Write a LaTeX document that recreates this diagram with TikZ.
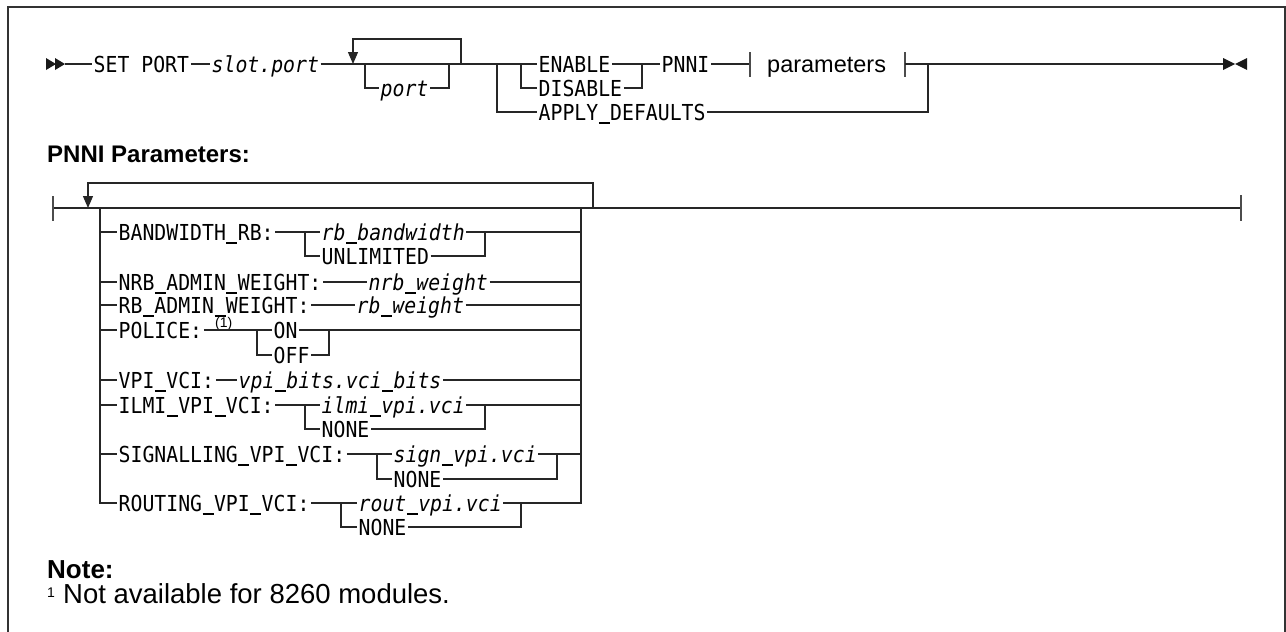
\documentclass[tikz,border=0pt]{standalone}
\usepackage{fontspec}
\setmainfont{Liberation Sans}
\newfontfamily\dmono[FakeStretch=0.9, ItalicFont={DejaVu Sans Mono Oblique}]{DejaVu Sans Mono}
\newsavebox\uscbox
\newcommand\usc{\sbox\uscbox{x}\makebox[\wd\uscbox][c]{\rule[-3.5pt]{0.92\wd\uscbox}{1.4pt}}}
\usetikzlibrary{arrows.meta}
\begin{document}
\begin{tikzpicture}[x=1pt,y=-1pt,
  ln/.style={line width=1.3pt, draw=black!85},
  mtxt/.style={font=\fontsize{22}{22}\dmono\selectfont, inner xsep=1.5pt, inner ysep=0pt, text height=16pt, text depth=0pt, anchor=west},
  itxt/.style={mtxt, font=\fontsize{22}{22}\dmono\itshape\selectfont},
  barln/.style={line width=2.4pt, draw=black!70},
  tip/.style={fill=black!90},
  frame/.style={line width=2pt, draw=black!80},
  hd/.style={font=\fontsize{24}{24}\selectfont\bfseries, anchor=base west, inner sep=0pt},
  note/.style={font=\fontsize{26}{26}\selectfont\bfseries, anchor=base west, inner sep=0pt},
  foot/.style={font=\fontsize{27.5}{27.5}\selectfont, anchor=base west, inner sep=0pt},
  sanst/.style={font=\fontsize{23.5}{23.5}\selectfont, anchor=base west, inner sep=0pt},
  supt/.style={font=\fontsize{14}{14}\selectfont, inner sep=0pt},
  looptip/.style={-{Triangle[length=12pt,width=10pt]}}
]
\useasboundingbox (0,0) rectangle (1286,632);
\draw[frame] (8,645) -- (8,7) -- (1285,7) -- (1285,645);

% ---------------- row 1
\fill[tip] (46,58) -- (56,64) -- (46,70) -- cycle;
\fill[tip] (55,58) -- (65,64) -- (55,70) -- cycle;
\coordinate (s0) at (65,64);
\node[mtxt] (set) at (92,64) {SET PORT};
\node[itxt] (slot) at (210,64) {slot.port};
\coordinate (ll) at (353,64);
\coordinate (lr) at (461,64);
\coordinate (pl) at (365,64);
\coordinate (pr) at (449,64);
\node[itxt] (port) at (379,88) {port};
\coordinate (c1) at (497,64);
\coordinate (e1) at (521,64);
\coordinate (e2) at (642,64);
\node[mtxt] (enable) at (537,64) {ENABLE};
\node[mtxt] (disable) at (537,88) {DISABLE};
\node[mtxt] (pnni) at (660,64) {PNNI};
\coordinate (b1) at (750,64);
\node[sanst] (parm) at (767,72) {parameters};
\coordinate (b2) at (905,64);
\coordinate (c2) at (928,64);
\coordinate (eend) at (1223,64);
\fill[tip] (1223,58) -- (1235,64) -- (1223,70) -- cycle;
\fill[tip] (1247,58) -- (1235,64) -- (1247,70) -- cycle;
\node[mtxt] (apply) at (537,112) {APPLY\usc DEFAULTS};

\draw[ln] (s0) -- (set.west);
\draw[ln] (set.east) -- (slot.west);
\draw[ln] (slot.east) -- (enable.west);
\draw[ln,looptip] (lr) -- ++(0,-25) -| (ll);
\draw[ln] (pl) |- (port.west);
\draw[ln] (port.east) -| (pr);
\draw[ln] (e1) |- (disable.west);
\draw[ln] (disable.east) -| (e2);
\draw[ln] (enable.east) -- (pnni.west);
\draw[ln] (pnni.east) -- (b1);
\draw[barln] ([yshift=12pt]b1) -- ([yshift=-13pt]b1);
\draw[barln] ([yshift=12pt]b2) -- ([yshift=-13pt]b2);
\draw[ln] (b2) -- (eend);
\draw[ln] (c1) |- (apply.west);
\draw[ln] (apply.east) -| (c2);

% ---------------- PNNI parameters
\node[hd] (pph) at (47,162) {PNNI Parameters:};
\coordinate (m0) at (53,208);
\coordinate (m1) at (1241,208);
\draw[ln] (m0) -- (m1);
\draw[barln] ([yshift=12pt]m0) -- ([yshift=-13pt]m0);
\draw[barln] ([yshift=13pt]m1) -- ([yshift=-13pt]m1);
\coordinate (al) at (88,208);
\coordinate (ar) at (593,208);
\draw[ln,looptip] (ar) -- ++(0,-25) -| (al);
\coordinate (L) at (100,208);
\coordinate (R) at (581,208);

% row: bandwidth
\node[mtxt] (bw) at (117,232) {BANDWIDTH\usc RB:};
\node[itxt] (rbb) at (320,232) {rb\usc bandwidth};
\node[mtxt] (unl) at (320,256) {UNLIMITED};
\coordinate (bwl) at (305,232);
\coordinate (bwr) at (485,232);
\draw[ln] (L |- bw.west) -- (bw.west);
\draw[ln] (bw.east) -- (rbb.west);
\draw[ln] (bwl) |- (unl.west);
\draw[ln] (unl.east) -| (bwr);
\draw[ln] (rbb.east) -- (R |- rbb.west);

% row: nrb
\node[mtxt] (nrb) at (117,282) {NRB\usc ADMIN\usc WEIGHT:};
\node[itxt] (nrbw) at (367,282) {nrb\usc weight};
\draw[ln] (L |- nrb.west) -- (nrb.west);
\draw[ln] (nrb.east) -- (nrbw.west);
\draw[ln] (nrbw.east) -- (R |- nrbw.west);

% row: rb
\node[mtxt] (rba) at (117,305) {RB\usc ADMIN\usc WEIGHT:};
\node[itxt] (rbw) at (355,305) {rb\usc weight};
\draw[ln] (L |- rba.west) -- (rba.west);
\draw[ln] (rba.east) -- (rbw.west);
\draw[ln] (rbw.east) -- (R |- rbw.west);

% row: police
\node[mtxt] (pol) at (117,330) {POLICE:};
\node[supt, anchor=south west] (n1) at (215,331) {(1)};
\node[mtxt] (on) at (272,330) {ON};
\node[mtxt] (off) at (272,355) {OFF};
\coordinate (pol1) at (257,330);
\coordinate (pol2) at (329,330);
\draw[ln] (L |- pol.west) -- (pol.west);
\draw[ln] (pol.east) -- (on.west);
\draw[ln] (pol1) |- (off.west);
\draw[ln] (off.east) -| (pol2);
\draw[ln] (on.east) -- (R |- on.west);

% row: vpi
\node[mtxt] (vpi) at (117,380) {VPI\usc VCI:};
\node[itxt] (vpib) at (237,380) {vpi\usc bits.vci\usc bits};
\draw[ln] (L |- vpi.west) -- (vpi.west);
\draw[ln] (vpi.east) -- (vpib.west);
\draw[ln] (vpib.east) -- (R |- vpib.west);

% row: ilmi
\node[mtxt] (ilmi) at (117,405) {ILMI\usc VPI\usc VCI:};
\node[itxt] (ilmiv) at (320,405) {ilmi\usc vpi.vci};
\node[mtxt] (none1) at (320,429) {NONE};
\coordinate (il1) at (305,405);
\coordinate (il2) at (485,405);
\draw[ln] (L |- ilmi.west) -- (ilmi.west);
\draw[ln] (ilmi.east) -- (ilmiv.west);
\draw[ln] (il1) |- (none1.west);
\draw[ln] (none1.east) -| (il2);
\draw[ln] (ilmiv.east) -- (R |- ilmiv.west);

% row: signalling
\node[mtxt] (sig) at (117,454) {SIGNALLING\usc VPI\usc VCI:};
\node[itxt] (sigv) at (392,454) {sign\usc vpi.vci};
\node[mtxt] (none2) at (392,479) {NONE};
\coordinate (sg1) at (377,454);
\coordinate (sg2) at (557,454);
\draw[ln] (L |- sig.west) -- (sig.west);
\draw[ln] (sig.east) -- (sigv.west);
\draw[ln] (sg1) |- (none2.west);
\draw[ln] (none2.east) -| (sg2);
\draw[ln] (sigv.east) -- (R |- sigv.west);

% row: routing
\node[mtxt] (rt) at (117,503) {ROUTING\usc VPI\usc VCI:};
\node[itxt] (rtv) at (357,503) {rout\usc vpi.vci};
\node[mtxt] (none3) at (357,527) {NONE};
\coordinate (rt1) at (341,503);
\coordinate (rt2) at (521,503);
\draw[ln] (L) |- (rt.west);
\draw[ln] (rt.east) -- (rtv.west);
\draw[ln] (rt1) |- (none3.west);
\draw[ln] (none3.east) -| (rt2);
\draw[ln] (rtv.east) -| (R);

% ---------------- note
\node[note] (nt) at (47,578) {Note:};
\node[supt, anchor=base west] (fn1) at (47,597) {1};
\node[foot] (ft) at (63,603) {Not available for 8260 modules.};
\end{tikzpicture}
\end{document}
